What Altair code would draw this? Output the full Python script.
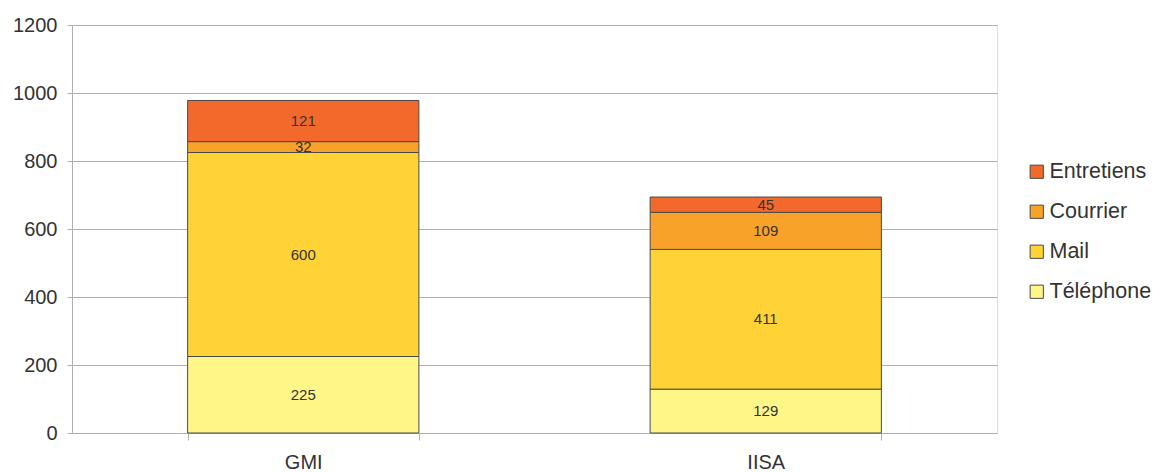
import altair as alt
import pandas as pd

categories = ["GMI", "IISA"]
series = ["Téléphone", "Mail", "Courrier", "Entretiens"]
values = {
    "GMI": [225, 600, 32, 121],
    "IISA": [129, 411, 109, 45],
}
legend_order = ["Entretiens", "Courrier", "Mail", "Téléphone"]
colors = ["#f2692b", "#f8a229", "#ffd236", "#fff688"]

rows = []
for c in categories:
    base = 0
    for i, s in enumerate(series):
        v = values[c][i]
        rows.append({"cat": c, "serie": s, "val": v, "order": i,
                     "y0": base, "y1": base + v, "mid": base + v / 2})
        base += v
df = pd.DataFrame(rows)

FONT = "Liberation Sans"

x = alt.X("cat:N", title=None, sort=categories,
          scale=alt.Scale(paddingInner=0.5, paddingOuter=0.25),
          axis=alt.Axis(labelAngle=0, labelFontSize=20, labelColor="#333333",
                        labelFont=FONT, tickBand="extent", tickSize=7,
                        tickColor="#b3b3b3", domainColor="#b3aeaa",
                        labelPadding=12, grid=False))

bars = alt.Chart(df).mark_bar(stroke="#4a4a4a", strokeWidth=1).encode(
    x=x,
    y=alt.Y("y0:Q", title=None,
            scale=alt.Scale(domain=[0, 1200], nice=False),
            axis=alt.Axis(values=[0, 200, 400, 600, 800, 1000, 1200], format="d",
                          labelFontSize=20, labelColor="#333333", labelFont=FONT,
                          gridColor="#b3aeaa", tickColor="#b3aeaa",
                          domainColor="#b3aeaa", tickSize=5, labelPadding=10)),
    y2="y1:Q",
    color=alt.Color("serie:N", title=None,
                    scale=alt.Scale(domain=legend_order, range=colors),
                    legend=alt.Legend(orient="none", legendX=954, legendY=136,
                                      symbolType="square", symbolSize=175,
                                      symbolStrokeColor="#4a4a4a",
                                      symbolStrokeWidth=1,
                                      labelFontSize=21.5, labelFont=FONT,
                                      labelColor="#333333", labelOffset=2,
                                      rowPadding=17)),
)

labels = alt.Chart(df).mark_text(fontSize=15, font=FONT, color="#333333",
                                 baseline="middle").encode(
    x=alt.X("cat:N", sort=categories),
    y=alt.Y("mid:Q"),
    text=alt.Text("val:Q"),
)

chart = alt.layer(bars, labels).properties(
    width=925, height=408,
    padding={"left": 64, "top": 17, "right": 157, "bottom": 39},
    autosize=alt.AutoSizeParams(type="none"),
).configure_view(stroke="#b3aeaa", strokeWidth=1).configure(background="white")

chart.save("out.html", embed_options={"renderer": "svg", "actions": False})
